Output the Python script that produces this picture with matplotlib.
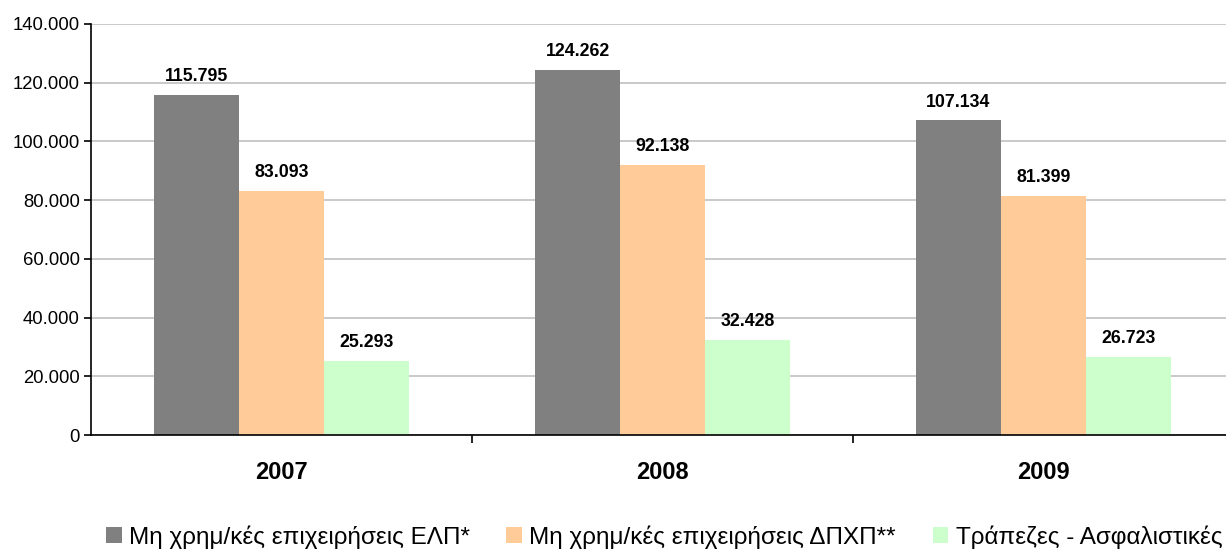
import numpy as np
import matplotlib.pyplot as plt

plt.rcParams['font.family'] = ['Liberation Sans', 'DejaVu Sans']

# Data
years = ['2007', '2008', '2009']
series_names = ['Μη χρημ/κές επιχειρήσεις ΕΛΠ*',
                'Μη χρημ/κές επιχειρήσεις ΔΠΧΠ**',
                'Τράπεζες - Ασφαλιστικές']
elp = [115795, 124262, 107134]
dpxp = [83093, 92138, 81399]
banks = [25293, 32428, 26723]
colors = ['#808080', '#ffcc99', '#ccffcc']


def fmt(v):
    return f'{v:,.0f}'.replace(',', '.')


fig = plt.figure(figsize=(12.26, 5.49), dpi=100)
ax = fig.add_axes([91 / 1226, 1 - 435 / 549, 1143 / 1226, 411 / 549])

x = np.arange(len(years))
width = 0.223
for i, (vals, name, c) in enumerate(zip([elp, dpxp, banks], series_names, colors)):
    pos = x + (i - 1) * width
    ax.bar(pos, vals, width, color=c, label=name, zorder=2)
    for p, v in zip(pos, vals):
        ax.annotate(fmt(v), (p, v), xytext=(0, 7), textcoords='offset points',
                    ha='center', va='bottom', fontsize=12.8, fontweight='bold')

ax.set_xlim(-0.5, 2.5)
ax.set_ylim(0, 140000)
yt = np.arange(0, 140001, 20000)
ax.set_yticks(yt)
ax.set_yticklabels([fmt(v) for v in yt], fontsize=13.3)
ax.yaxis.grid(True, color='#c0c0c0', linewidth=1.2, zorder=0)

# year labels, ticks between groups
ax.set_xticks([0.5, 1.5, 2.5])
ax.set_xticklabels([])
ax.tick_params(axis='x', length=6, width=1.2, direction='out')
ax.tick_params(axis='y', length=5, width=1.2, direction='out', pad=3)
for xi, yr in zip(x, years):
    ax.annotate(yr, (xi, 0), xycoords=('data', 'axes fraction'),
                xytext=(0, -19), textcoords='offset points',
                ha='center', va='top', fontsize=17, fontweight='bold')

for s in ['top', 'right']:
    ax.spines[s].set_visible(False)
ax.spines['left'].set_linewidth(1.2)
ax.spines['bottom'].set_linewidth(1.2)

fig.legend(loc='center', bbox_to_anchor=(664 / 1226, 1 - 537 / 549),
           ncol=3, frameon=False, fontsize=17.5,
           handlelength=0.65, handleheight=0.65, handletextpad=0.3,
           columnspacing=1.5, borderpad=0, borderaxespad=0)

fig.savefig('out.png', dpi=100)
